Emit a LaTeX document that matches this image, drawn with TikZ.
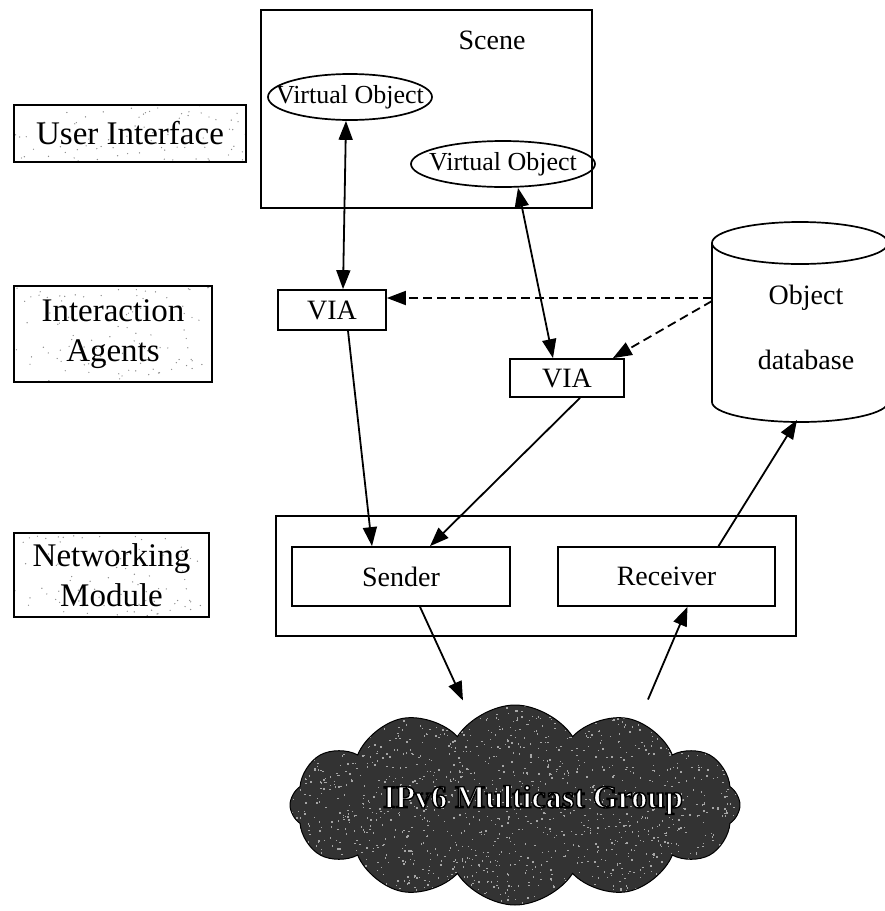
\documentclass[tikz,border=0pt]{standalone}
\usepackage{fontspec}
\setmainfont{Liberation Serif}
\usetikzlibrary{arrows.meta,shapes.geometric,shapes.symbols,calc}

% white letters with a black outline (PDF text render mode 2)
\newcommand{\outlinedtext}[1]{%
  \special{pdf:literal direct 2 Tr 1.4 w 0 0 0 RG}#1\special{pdf:literal direct 0 Tr}}

\begin{document}
\begin{tikzpicture}[x=1pt,y=-1pt,
  every node/.style={font=\fontsize{28}{32}\selectfont, inner sep=0pt},
  box/.style={draw, line width=1.7pt, fill=white},
  oval/.style={draw, ellipse, line width=1.7pt, inner sep=0pt},
  ovaltext/.style={font=\fontsize{26}{30}\selectfont},
  layer/.style={draw, line width=2pt, fill=white, align=center,
    font=\fontsize{33}{40}\selectfont,
    path picture={\pgfmathsetseed{11}
      \foreach \k in {1,...,140}{
        \fill[black!45] ($(path picture bounding box.center)+(rand*120,rand*50)$) circle (0.7);}}},
  tip/.tip={Triangle[length=19pt,width=14pt]},
  link/.style={line width=1.8pt, -tip},
  twoway/.style={line width=1.8pt, tip-tip},
  lookup/.style={line width=1.8pt, dash pattern=on 9pt off 5pt, -tip},
]
\useasboundingbox (0,0) rectangle (885,911);

% layer captions on the left
\node[layer, minimum width=232, minimum height=57] (ui) at (130,133.5) {User Interface};
\node[layer, minimum width=198, minimum height=96] (ia) at (113,334) {Interaction\\Agents};
\node[layer, minimum width=195, minimum height=84] (nm) at (111.5,575) {Networking\\Module};

% scene with its virtual objects
\node[box, minimum width=331, minimum height=198] (scene) at (426.5,109) {};
\node (scenelbl) at (492,40) {Scene};
\node[oval, minimum width=164, minimum height=46] (vo1) at (350,97) {};
\node[ovaltext] (vo1lbl) at (vo1) {Virtual Object};
\node[oval, minimum width=184, minimum height=46] (vo2) at (503,164) {};
\node[ovaltext] (vo2lbl) at (vo2) {Virtual Object};

% interaction agents
\node[box, minimum width=108, minimum height=40] (via1) at (332,310) {VIA};
\node[box, minimum width=114, minimum height=38] (via2) at (567,378) {VIA};

% object database cylinder
\draw[box] (712,243) -- (712,402)
  arc[start angle=180, end angle=0, x radius=88, y radius=20] -- (888,243)
  arc[start angle=0, end angle=-180, x radius=88, y radius=21] -- cycle;
\draw[line width=1.7pt] (712,243) arc[start angle=180, end angle=0, x radius=88, y radius=21];
\node (dbtop) at (806,298) {Object};
\node (dbbot) at (806,360) {database};
\coordinate (dbl) at (712,298);
\coordinate (dbb) at (797,420);

% networking module
\node[box, minimum width=520, minimum height=120] (mod) at (536,576) {};
\node[box, minimum width=218, minimum height=59] (snd) at (401,576.5) {Sender};
\node[box, minimum width=217, minimum height=59] (rcv) at (666.5,576.5) {Receiver};

% multicast group cloud
\node[cloud, cloud puffs=12, cloud puff arc=115, aspect=2.25,
      minimum width=450, minimum height=200, fill=black!80, draw=black, line width=1pt,
      path picture={\pgfmathsetseed{5}
        \foreach \k in {1,...,1800}{
          \fill[black!35] ($(path picture bounding box.center)+(rand*235,rand*110)$) rectangle ++(1.4,1.4);}}]
  (net) at (515,805) {};

% connectors
\draw[twoway] ($(vo1.south)+(-4,0)$) -- ($(via1.north)+(11,0)$);
\draw[twoway] ($(vo2.south)+(15,0)$) -- ($(via2.north)+(-14,0)$);
\draw[lookup] (dbl) -- ($(via1.east)+(0,-12)$);
\draw[lookup] ($(dbl)+(0,3)$) -- ($(via2.north east)+(-12,0)$);
\draw[link] ($(via1.south)+(16,0)$) -- ($(snd.north)+(-29,0)$);
\draw[link] ($(via2.south)+(13,0)$) -- ($(snd.north)+(29,0)$);
\draw[link] ($(rcv.north)+(52,0)$) -- (dbb);
\draw[link] ($(snd.south)+(19,0)$) -- ($(net.north)+(-52,-4)$);
\draw[link] ($(net.north)+(133,-5)$) -- ($(rcv.south)+(21,0)$);

% cloud caption
\node[text=white, font=\fontsize{32}{36}\selectfont\bfseries] (netlbl) at (533,800)
  {\outlinedtext{IPv6 Multicast Group}};
\end{tikzpicture}
\end{document}
